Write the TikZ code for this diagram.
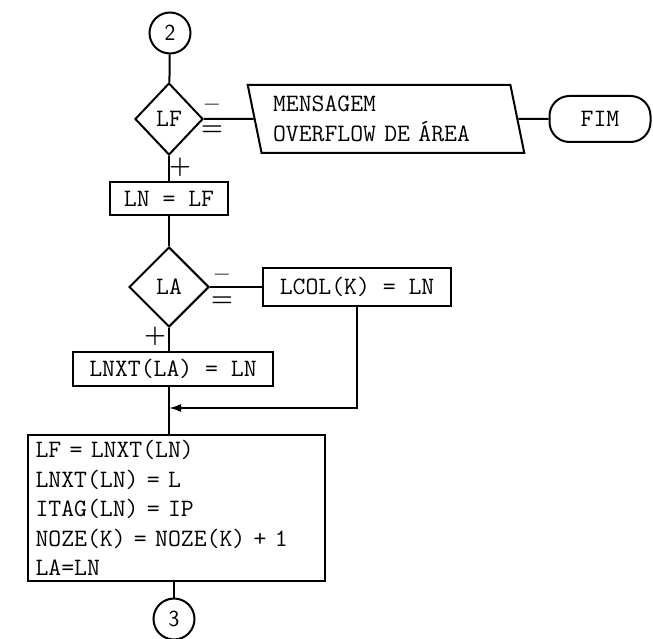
\documentclass[tikz,border=0pt]{standalone}
\usetikzlibrary{positioning,shapes.geometric,arrows.meta}

\begin{document}
\begin{tikzpicture}[x=1pt,y=-1pt,line width=2pt,
  every node/.style={font=\fontsize{25}{29.5}\selectfont\ttfamily},
  box/.style={rectangle,draw,inner sep=0pt},
  decision/.style={diamond,draw,inner sep=0pt},
  connect/.style={circle,draw,minimum size=41pt,inner sep=0pt,font=\fontsize{23}{24}\selectfont\sffamily},
  sign/.style={inner sep=0pt,font=\fontsize{25}{25}\selectfont\rmfamily\bfseries}]
  \useasboundingbox (0,0) rectangle (653,639);
  \node[connect] (c2) at (170,33) {2};
  \node[decision,minimum width=68pt,minimum height=72pt] (lf) at (169,119) {LF};
  \node[trapezium,draw,trapezium left angle=104,trapezium right angle=76,trapezium stretches=true,
    minimum width=277pt,minimum height=68pt,text width=226pt,align=left] (msg) at (386,119) {MENSAGEM\\OVERFLOW DE ÁREA};
  \node[box,rounded corners=20pt,minimum width=101pt,minimum height=46pt] (fim) at (600,119) {FIM};
  \node[box,minimum width=118pt,minimum height=33pt] (lnlf) at (169,199) {LN = LF};
  \node[decision,minimum width=80pt,minimum height=80pt] (la) at (169,287) {LA};
  \node[box,minimum width=188pt,minimum height=38pt] (lcol) at (357,287) {LCOL(K) = LN};
  \node[box,minimum width=200pt,minimum height=34pt] (lnxt) at (173,369) {LNXT(LA) = LN};
  \coordinate (join) at (169,408);
  \node[box,align=left,text width=281pt,inner xsep=8pt,minimum height=146pt] (calc) at (176,508)
    {LF = LNXT(LN)\\LNXT(LN) = L\\ITAG(LN) = IP\\NOZE(K) = NOZE(K) + 1\\LA=LN};
  \node[connect] (c3) at (174,619) {3};
  \node[sign] (lfneg) at (212,108) {--};
  \node[sign] (lfzero) at (212,131) {=};
  \node[sign] (lfpos) at (180,167) {+};
  \node[sign] (laneg) at (222,278) {--};
  \node[sign] (lazero) at (222,302) {=};
  \node[sign] (lapos) at (155,336) {+};
  \draw (c2) -- (lf);
  \draw (lf) -- (msg);
  \draw (msg) -- (fim);
  \draw (lf) -- (lnlf);
  \draw (lnlf) -- (la);
  \draw (la) -- (lcol);
  \draw (la) -- (la |- lnxt.north);
  \draw (join |- lnxt.south) -- (join |- calc.north);
  \draw[-{Latex[length=12pt,width=8pt]}] (lcol) |- (join);
  \draw (c3 |- calc.south) -- (c3);
\end{tikzpicture}
\end{document}
